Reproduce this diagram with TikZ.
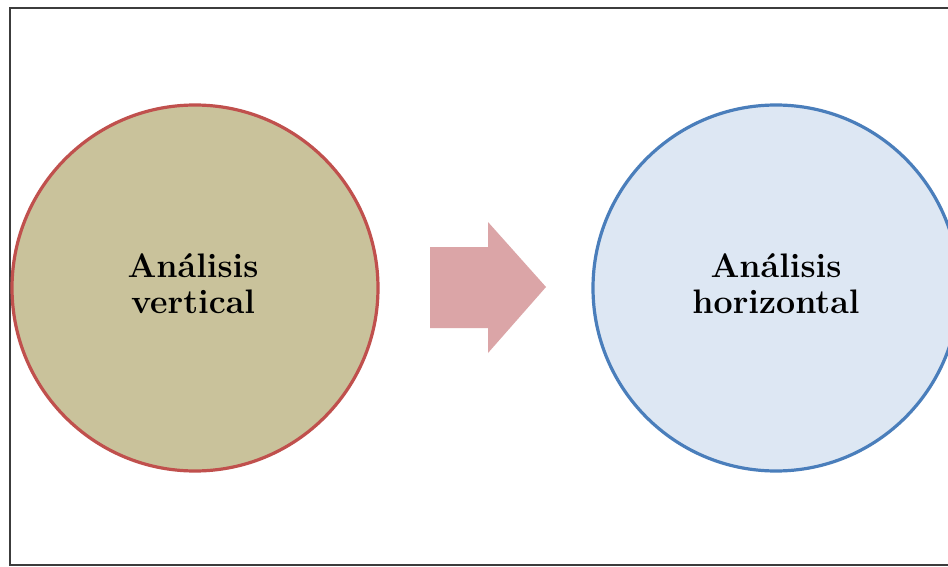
\documentclass[tikz,border=0pt]{standalone}
\usetikzlibrary{shapes.geometric}
\definecolor{khaki}{HTML}{C9C29B}
\definecolor{redline}{HTML}{C0504D}
\definecolor{bluefill}{HTML}{DDE7F3}
\definecolor{blueline}{HTML}{4A7EBB}
\definecolor{pinkarrow}{HTML}{DBA5A7}
\definecolor{frame}{HTML}{3C3C3C}
\tikzset{
  bubble/.style={circle, minimum size=366pt, inner sep=0pt, line width=3.2pt},
  label text/.style={font=\fontsize{34}{36}\selectfont\bfseries, align=center, text=black},
}
\begin{document}
\begin{tikzpicture}[x=1pt,y=-1pt]
\useasboundingbox (0,0) rectangle (948,567);
\fill[white] (0,0) rectangle (948,567);
\clip (0,0) rectangle (948,567);
\draw[frame, line width=2pt] (960,8) -- (10,8) -- (10,565) -- (960,565);
\node[bubble, fill=khaki, draw=redline] (left) at (195,288) {};
\node[bubble, fill=bluefill, draw=blueline] (right) at (776,288) {};
\node[label text] (lt) at (193,284) {Análisis\\vertical};
\node[label text] (rt) at (776,284) {Análisis\\horizontal};
\fill[pinkarrow] (430,247) -- (488,247) -- (488,222) -- (546,287) -- (488,353) -- (488,328) -- (430,328) -- cycle;
\end{tikzpicture}
\end{document}
